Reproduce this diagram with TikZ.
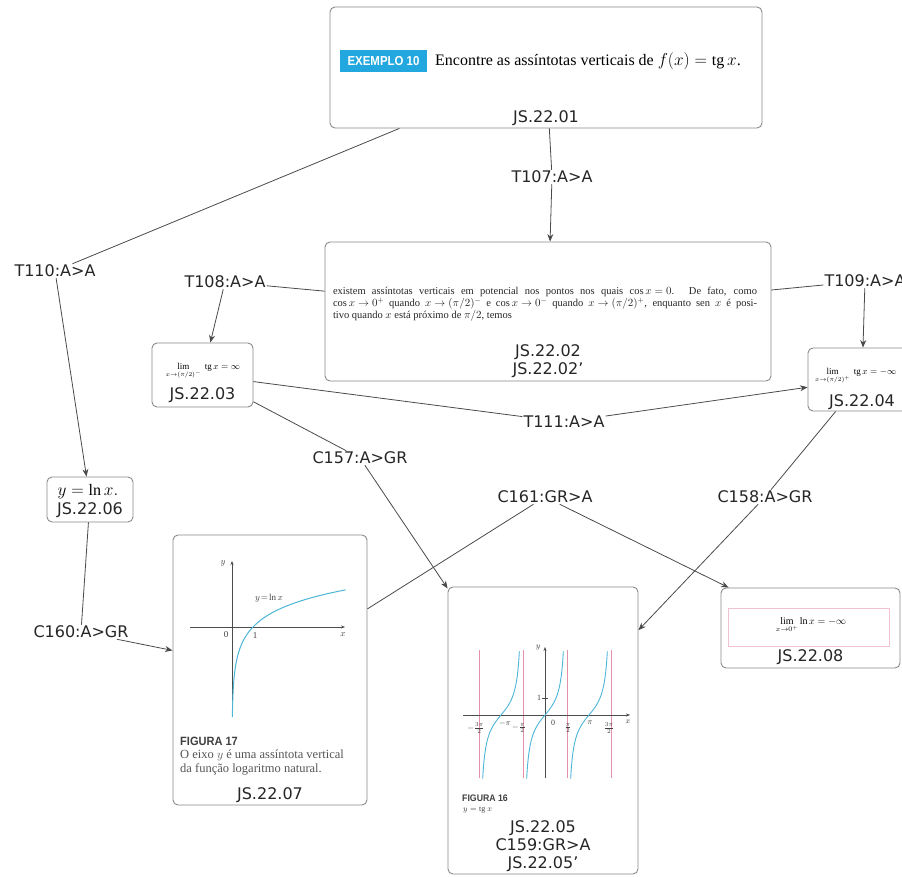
\documentclass[tikz,border=0pt]{standalone}
\usepackage{graphicx}
\usepackage{fontspec}
\setmainfont{Liberation Serif}
\newfontfamily\labelfont{DejaVu Sans}
\newfontfamily\badgefont{Liberation Sans}
\usetikzlibrary{arrows.meta}
\definecolor{boxgray}{HTML}{8A8A8A}
\definecolor{edgegray}{HTML}{4A4A4A}
\definecolor{curvecyan}{HTML}{4DB6D6}
\definecolor{asymred}{HTML}{E58FA8}
\definecolor{badgecyan}{HTML}{22A8DF}
\definecolor{captiongray}{HTML}{555555}
\begin{document}
\begin{tikzpicture}[x=1pt,y=-1pt,
  card/.style={draw=boxgray, line width=0.9pt, rounded corners=5pt, fill=white, inner sep=0pt},
  tag/.style={font=\labelfont\fontsize{16}{18}\selectfont, text=black!85, inner sep=1pt},
  lbl/.style={font=\labelfont\fontsize{16}{18}\selectfont, text=black!85, inner sep=0pt, align=center},
  link/.style={draw=edgegray, line width=0.8pt},
  arr/.style={link, -{Stealth[length=7.5pt,width=6pt]}},
  axis/.style={draw=black!70, line width=0.5pt, -{Stealth[length=4pt,width=3pt]}},
  small/.style={inner sep=0pt, font=\fontsize{9}{10}\selectfont, text=black!75},
  tiny/.style={inner sep=0pt, font=\fontsize{8}{9}\selectfont, text=black!75},
]
\clip (0,0) rectangle (902,877);
\fill[white] (0,0) rectangle (902,877);

% ---------- boxes ----------
\node[card, minimum width=432pt, minimum height=121pt] (ex) at (546,67.5) {};
\node[card, minimum width=446pt, minimum height=139pt] (ex2) at (548,311.5) {};
\node[card, minimum width=101pt, minimum height=64pt] (lim1) at (202.5,375) {};
\node[card, minimum width=108pt, minimum height=63pt] (lim2) at (862,379.5) {};
\node[card, minimum width=86pt, minimum height=45pt] (lnx) at (90,499.5) {};
\node[card, minimum width=194pt, minimum height=270pt] (fig17) at (270,670) {};
\node[card, minimum width=190pt, minimum height=287pt] (fig16) at (543,730.5) {};
\node[card, minimum width=179pt, minimum height=80pt] (lnlim) at (810.5,628) {};

% ---------- top box ----------
\node[fill=badgecyan, text=white, font=\badgefont\bfseries\fontsize{13}{13}\selectfont,
      minimum width=87pt, minimum height=22pt, inner sep=0pt] (badge) at (383.5,61)
      {\scalebox{0.88}[1]{EXEMPLO 10}};
\node[anchor=west, font=\fontsize{16}{18}\selectfont, inner sep=0pt] (sent) at (435,61)
      {Encontre as assíntotas verticais de $f(x)=\mathrm{tg}\,x$.};
\node[lbl] (id1) at (546,118) {JS.22.01};

% ---------- middle box ----------
\node[inner sep=0pt, text width=424pt, align=justify, font=\fontsize{10.5}{12}\selectfont, text=black!85] (para) at (545,304)
 {\thickmuskip=5mu\medmuskip=4mu
  existem assíntotas verticais em potencial nos pontos nos quais $\cos x = 0$. De fato, como\linebreak
  $\cos x \to 0^+$ quando $x \to (\pi/2)^-$ e $\cos x \to 0^-$ quando $x \to (\pi/2)^+$, enquanto sen $x$ é posi-\linebreak
  tivo quando $x$ está próximo de $\pi/2$, temos};
\node[lbl] (id2) at (548,361) {JS.22.02\\JS.22.02’};

% ---------- limit boxes ----------
\node[inner sep=0pt, font=\fontsize{9}{10}\selectfont] (f1) at (203,371)
      {$\lim\limits_{x\to(\pi/2)^-}\ \mathrm{tg}\,x = \infty$};
\node[lbl] (id3) at (202.5,395) {JS.22.03};
\node[anchor=west, inner sep=0pt, font=\fontsize{9}{10}\selectfont] (f2) at (815,376)
      {$\lim\limits_{x\to(\pi/2)^+}\ \mathrm{tg}\,x = -\infty$};
\node[lbl] (id4) at (862,402) {JS.22.04};

% ---------- ln x box ----------
\node[inner sep=0pt, font=\fontsize{16}{18}\selectfont] (f3) at (88,492) {$y = \ln x.$};
\node[lbl] (id6) at (90,510) {JS.22.06};

% ---------- limit of ln x ----------
\node[draw=asymred!55, line width=0.5pt, minimum width=161pt, minimum height=38pt, inner sep=0pt] (lnframe) at (808.5,627) {};
\node[inner sep=0pt, font=\fontsize{10}{11}\selectfont] (f4) at (811,625) {$\lim\limits_{x\to 0^+}\ln x = -\infty$};
\node[lbl] (id8) at (810.5,657) {JS.22.08};

% ---------- figure 17: y = ln x ----------
\draw[axis] (190,627) -- (345,627);
\draw[axis] (232,717) -- (232,561);
\draw[curvecyan, line width=1pt] plot[domain=-4.1:1.69, samples=120, smooth] ({232+21*exp(\x)},{627-22*\x});
\node[small] (p17y) at (223,563) {$y$};
\node[small] (p17o) at (226,635) {0};
\node[small] (p17one) at (255,636) {1};
\node[small] (p17x) at (343,635) {$x$};
\node[small] (p17c) at (269,598) {$y\!=\!\ln x$};
\node[anchor=west, inner sep=0pt, font=\badgefont\bfseries\fontsize{12}{12}\selectfont, text=black!75] (cap17) at (180,741)
      {\scalebox{0.92}[1]{FIGURA 17}};
\node[anchor=north west, inner sep=0pt, align=left, font=\fontsize{12.5}{14}\selectfont, text=captiongray] (txt17) at (180,750)
      {O eixo $y$ é uma assíntota vertical\\da função logaritmo natural.};
\node[lbl] (id7) at (270,795) {JS.22.07};

% ---------- figure 16: y = tg x ----------
\foreach \a in {479,523,567,611}
  \draw[asymred, line width=0.6pt] (\a,650) -- (\a,778);
\draw[axis] (463,715) -- (630,715);
\draw[axis] (545,778) -- (545,647);
\draw[black!70, line width=0.5pt] (542,698) -- (548,698);
\foreach \k in {-1,0,1}
  \draw[curvecyan, line width=0.9pt] plot[domain=-1.31:1.31, samples=60, smooth]
    ({545+14*(\x+(\k)*pi)},{715-17*tan(\x r)});
\node[tiny] (p16y) at (538,648) {$y$};
\node[tiny] (p16one) at (539,698) {1};
\node[tiny] (p16a) at (476,728) {$-\frac{3\pi}{2}$};
\node[tiny] (p16b) at (505,723) {$-\pi$};
\node[tiny] (p16c) at (519,728) {$-\frac{\pi}{2}$};
\node[tiny] (p16o) at (553,723) {0};
\node[tiny] (p16d) at (568,728) {$\frac{\pi}{2}$};
\node[tiny] (p16e) at (590,723) {$\pi$};
\node[tiny] (p16f) at (609,728) {$\frac{3\pi}{2}$};
\node[tiny] (p16x) at (628,722) {$x$};
\node[anchor=west, inner sep=0pt, font=\badgefont\bfseries\fontsize{9.5}{10}\selectfont, text=black!75] (cap16) at (462,798)
      {\scalebox{0.92}[1]{FIGURA 16}};
\node[anchor=west, tiny] (txt16) at (463,810) {$y=\mathrm{tg}\ x$};
\node[lbl] (id5) at (543,846) {JS.22.05\\C159:GR>A\\JS.22.05’};

% ---------- connector labels ----------
\node[tag] (t107) at (552,177) {T107:A>A};
\node[tag] (t110) at (55,271) {T110:A>A};
\node[tag] (t108) at (225,282) {T108:A>A};
\node[tag] (t109) at (865,281) {T109:A>A};
\node[tag] (t111) at (564,422) {T111:A>A};
\node[tag] (c157) at (360,458) {C157:A>GR};
\node[tag] (c161) at (545,497) {C161:GR>A};
\node[tag] (c158) at (765,497) {C158:A>GR};
\node[tag] (c160) at (81,632) {C160:A>GR};

% ---------- connectors ----------
\draw[link] (ex) -- (t107);
\draw[arr] (t107) -- (ex2);
\draw[link] (ex) -- (t110);
\draw[arr] (t110) -- (lnx);
\draw[link] (ex2) -- (t108);
\draw[arr] (t108) -- (lim1);
\draw[link] (ex2) -- (t109);
\draw[arr] (t109) -- (lim2);
\draw[link] (lim1) -- (t111);
\draw[arr] (t111) -- (lim2);
\draw[link] (lim1) -- (c157);
\draw[arr] (c157) -- (fig16);
\draw[link] (fig17) -- (c161);
\draw[arr] (c161) -- (lnlim);
\draw[link] (lim2) -- (c158);
\draw[arr] (c158) -- (fig16);
\draw[link] (lnx) -- (c160);
\draw[arr] (c160) -- (fig17);
\end{tikzpicture}
\end{document}
